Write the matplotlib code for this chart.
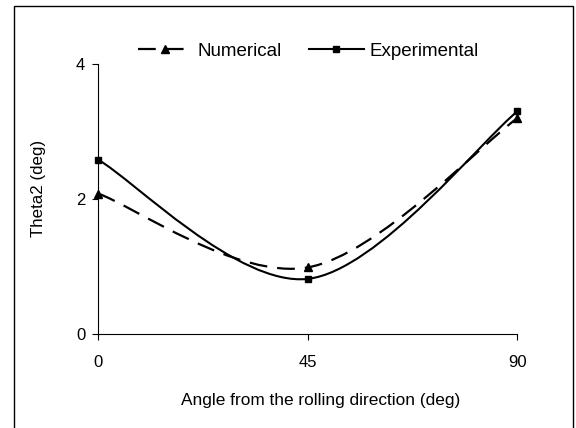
import numpy as np
import matplotlib
matplotlib.use('Agg')
import matplotlib.pyplot as plt
from matplotlib.path import Path
from matplotlib.patches import PathPatch, Rectangle
from matplotlib.lines import Line2D

# data
angle = [0, 45, 90]
numerical = [2.08, 0.99, 3.20]
experimental = [2.58, 0.82, 3.30]
x_ticks = [0, 45, 90]
y_ticks = [0, 2, 4]

plt.rcParams['font.family'] = ['Liberation Sans', 'DejaVu Sans']


def smooth_path(xs, ys):
    # excel style smoothed line: bezier segments, tangents = neighbour diff / 6
    pts = np.column_stack([xs, ys]).astype(float)
    n = len(pts)
    verts = [pts[0]]
    codes = [Path.MOVETO]
    for i in range(n - 1):
        p_prev = pts[i - 1] if i > 0 else pts[i]
        p_next = pts[i + 2] if i + 2 < n else pts[i + 1]
        c1 = pts[i] + (pts[i + 1] - p_prev) / 6.0
        c2 = pts[i + 1] - (p_next - pts[i]) / 6.0
        verts += [c1, c2, pts[i + 1]]
        codes += [Path.CURVE4] * 3
    return Path(verts, codes)


dash = (0, (8, 4.5))

fig = plt.figure(figsize=(5.76, 4.28), dpi=100)
ax = fig.add_axes([0.171, 0.219, 0.7274, 0.6315])

ax.add_patch(PathPatch(smooth_path(angle, numerical), fill=False, ec='black',
                       lw=1.6, linestyle=dash, capstyle='butt'))
ax.add_patch(PathPatch(smooth_path(angle, experimental), fill=False, ec='black',
                       lw=1.5))
ax.plot(angle, numerical, ls='none', marker='^', ms=6, color='black', clip_on=False)
ax.plot(angle, experimental, ls='none', marker='s', ms=5, color='black', clip_on=False)

ax.set_xlim(0, 90)
ax.set_ylim(0, 4)
ax.set_xticks(x_ticks)
ax.set_yticks(y_ticks)
for s in ['top', 'right']:
    ax.spines[s].set_visible(False)
for s in ['left', 'bottom']:
    ax.spines[s].set_linewidth(0.8)
ax.tick_params(axis='both', direction='out', length=4.5, width=0.8, labelsize=12)
ax.tick_params(axis='x', pad=10.5)
ax.tick_params(axis='y', pad=5)

handles = [
    Line2D([], [], color='black', lw=1.6, ls=dash, marker='^', ms=6),
    Line2D([], [], color='black', lw=1.5, marker='s', ms=5),
]
fig.legend(handles, ['Numerical', 'Experimental'], loc='center',
           bbox_to_anchor=(0.535, 0.88), ncol=2, frameon=False, fontsize=13.5,
           handlelength=2.9, handletextpad=0.3, columnspacing=1.45, numpoints=1)

fig.text(0.556, 0.065, 'Angle from the rolling direction (deg)', ha='center',
         va='center', fontsize=12.4)
fig.text(0.067, 0.559, 'Theta2 (deg)', ha='center', va='center', rotation=90,
         fontsize=12.2)

# outer chart border
fig.add_artist(Rectangle((14 / 576, -0.1), (573 - 14) / 576, 1 - 6 / 428 + 0.1,
                         transform=fig.transFigure, fill=False, ec='black', lw=1.0))

fig.savefig('out.png', dpi=100)
